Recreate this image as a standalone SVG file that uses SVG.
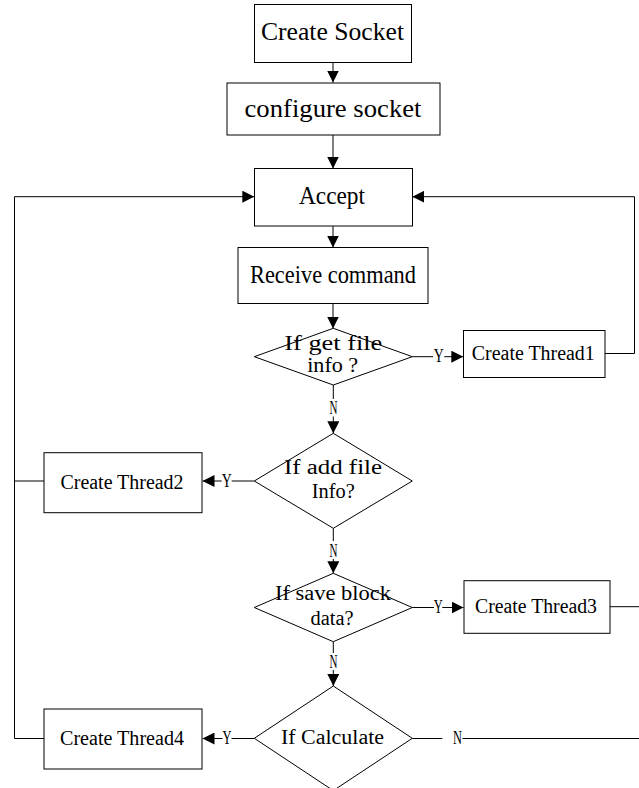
<svg xmlns="http://www.w3.org/2000/svg" width="639" height="788" viewBox="0 0 639 788">
  <style>
    .box { fill: #fff; stroke: #000; stroke-width: 1; }
    .dia { fill: #fff; stroke: #000; stroke-width: 1; }
    .ln { fill: none; stroke: #000; stroke-width: 1; }
    .t { font-family: "Liberation Serif", "Times New Roman", serif; fill: #000; text-anchor: middle; }
    .big { font-size: 25px; }
    .mid { font-size: 20px; }
    .lab { font-size: 19px; }
  </style>
  <defs>
    <marker id="arr" markerUnits="userSpaceOnUse" markerWidth="12" markerHeight="12" refX="12" refY="6" orient="auto">
      <path d="M0,0 L12,6 L0,12 Z" fill="#000"/>
    </marker>
  </defs>
  <rect width="639" height="788" fill="#fff"/>

  <!-- connectors -->
  <g id="connectors">
    <line class="ln" x1="333" y1="62.5" x2="333" y2="82.5" marker-end="url(#arr)"/>
    <line class="ln" x1="333" y1="135" x2="333" y2="168.5" marker-end="url(#arr)"/>
    <line class="ln" x1="333" y1="226" x2="333" y2="247.5" marker-end="url(#arr)"/>
    <line class="ln" x1="333" y1="303.5" x2="333" y2="328.5" marker-end="url(#arr)"/>

    <!-- decision 1 -->
    <line class="ln" x1="333.3" y1="385" x2="333.3" y2="399"/>
    <text class="t lab" x="333.5" y="414" textLength="8" lengthAdjust="spacingAndGlyphs">N</text>
    <line class="ln" x1="333.3" y1="416.5" x2="333.3" y2="433.3" marker-end="url(#arr)"/>
    <line class="ln" x1="412.3" y1="356.7" x2="433" y2="356.7"/>
    <text class="t lab" x="438.8" y="362" textLength="10" lengthAdjust="spacingAndGlyphs">Y</text>
    <line class="ln" x1="444.3" y1="356.7" x2="463.3" y2="356.7" marker-end="url(#arr)"/>
    <path class="ln" d="M605,353.5 H634.5 V196.7 H412.3" marker-end="url(#arr)"/>

    <!-- decision 2 -->
    <line class="ln" x1="333.3" y1="528.3" x2="333.3" y2="541"/>
    <text class="t lab" x="333.5" y="557" textLength="8" lengthAdjust="spacingAndGlyphs">N</text>
    <line class="ln" x1="333.3" y1="559" x2="333.3" y2="573.3" marker-end="url(#arr)"/>
    <line class="ln" x1="254.3" y1="481" x2="231.7" y2="481"/>
    <text class="t lab" x="226.7" y="486.5" textLength="10" lengthAdjust="spacingAndGlyphs">Y</text>
    <line class="ln" x1="221.7" y1="481" x2="202.5" y2="481" marker-end="url(#arr)"/>
    <line class="ln" x1="44" y1="481" x2="14.5" y2="481"/>
    <path class="ln" d="M44,738.5 H14.5 V196.7 H254.3" marker-end="url(#arr)"/>

    <!-- decision 3 -->
    <line class="ln" x1="333.3" y1="641.7" x2="333.3" y2="653"/>
    <text class="t lab" x="333.5" y="668" textLength="8" lengthAdjust="spacingAndGlyphs">N</text>
    <line class="ln" x1="333.3" y1="670" x2="333.3" y2="686" marker-end="url(#arr)"/>
    <line class="ln" x1="412.3" y1="607.5" x2="434" y2="607.5"/>
    <text class="t lab" x="438.2" y="613" textLength="9" lengthAdjust="spacingAndGlyphs">Y</text>
    <line class="ln" x1="442.3" y1="607.5" x2="463.5" y2="607.5" marker-end="url(#arr)"/>
    <line class="ln" x1="610" y1="606.7" x2="639" y2="606.7"/>

    <!-- decision 4 -->
    <line class="ln" x1="254.3" y1="738.5" x2="231.5" y2="738.5"/>
    <text class="t lab" x="227" y="744" textLength="9" lengthAdjust="spacingAndGlyphs">Y</text>
    <line class="ln" x1="222.5" y1="738.5" x2="202.5" y2="738.5" marker-end="url(#arr)"/>
    <line class="ln" x1="412.3" y1="738.5" x2="442.3" y2="738.5"/>
    <text class="t lab" x="457.5" y="744" textLength="9" lengthAdjust="spacingAndGlyphs">N</text>
    <line class="ln" x1="462.5" y1="738.5" x2="639" y2="738.5"/>
  </g>

  <!-- process boxes -->
  <g id="create-socket">
    <rect class="box" x="254.5" y="4.5" width="157" height="58"/>
    <text class="t big" x="332.5" y="40" textLength="143" lengthAdjust="spacingAndGlyphs">Create Socket</text>
  </g>
  <g id="configure-socket">
    <rect class="box" x="227" y="83" width="213" height="52"/>
    <text class="t big" x="333" y="117" textLength="177" lengthAdjust="spacingAndGlyphs">configure socket</text>
  </g>
  <g id="accept">
    <rect class="box" x="254.5" y="168.5" width="158" height="57.5"/>
    <text class="t big" x="332" y="204" textLength="66" lengthAdjust="spacingAndGlyphs">Accept</text>
  </g>
  <g id="receive-command">
    <rect class="box" x="238" y="247.5" width="190" height="56"/>
    <text class="t big" x="333" y="283" textLength="166" lengthAdjust="spacingAndGlyphs">Receive command</text>
  </g>

  <!-- decisions -->
  <g id="if-get-file-info">
    <polygon class="dia" points="333.3,328.3 412.3,356.7 333.3,385 254.3,356.7"/>
    <text class="t mid" x="333.3" y="350" textLength="98" lengthAdjust="spacingAndGlyphs">If get file</text>
    <text class="t mid" x="332.7" y="372" textLength="51" lengthAdjust="spacingAndGlyphs">info ?</text>
  </g>
  <g id="if-add-file-info">
    <polygon class="dia" points="333.3,433.3 412.3,481 333.3,528.3 254.3,481"/>
    <text class="t mid" x="333" y="474" textLength="98" lengthAdjust="spacingAndGlyphs">If add file</text>
    <text class="t mid" x="333.3" y="498" textLength="43" lengthAdjust="spacingAndGlyphs">Info?</text>
  </g>
  <g id="if-save-block-data">
    <polygon class="dia" points="333.3,573.3 412.3,607.5 333.3,641.7 254.3,607.5"/>
    <text class="t mid" x="333" y="600" textLength="116" lengthAdjust="spacingAndGlyphs">If save block</text>
    <text class="t mid" x="332" y="625" textLength="43" lengthAdjust="spacingAndGlyphs">data?</text>
  </g>
  <g id="if-calculate">
    <polygon class="dia" points="333.3,686 412.3,738.3 333.3,790.6 254.3,738.3"/>
    <text class="t mid" x="332.5" y="744" textLength="103" lengthAdjust="spacingAndGlyphs">If Calculate</text>
  </g>

  <!-- thread boxes -->
  <g id="create-thread1">
    <rect class="box" x="463.5" y="330.5" width="141.5" height="47"/>
    <text class="t mid" x="533.3" y="360" textLength="123" lengthAdjust="spacingAndGlyphs">Create Thread1</text>
  </g>
  <g id="create-thread2">
    <rect class="box" x="44" y="452.7" width="158" height="60"/>
    <text class="t mid" x="122" y="489" textLength="123" lengthAdjust="spacingAndGlyphs">Create Thread2</text>
  </g>
  <g id="create-thread3">
    <rect class="box" x="464" y="580.7" width="146" height="52.6"/>
    <text class="t mid" x="536" y="613" textLength="122" lengthAdjust="spacingAndGlyphs">Create Thread3</text>
  </g>
  <g id="create-thread4">
    <rect class="box" x="44" y="709" width="158" height="60"/>
    <text class="t mid" x="122" y="745" textLength="124" lengthAdjust="spacingAndGlyphs">Create Thread4</text>
  </g>
</svg>
